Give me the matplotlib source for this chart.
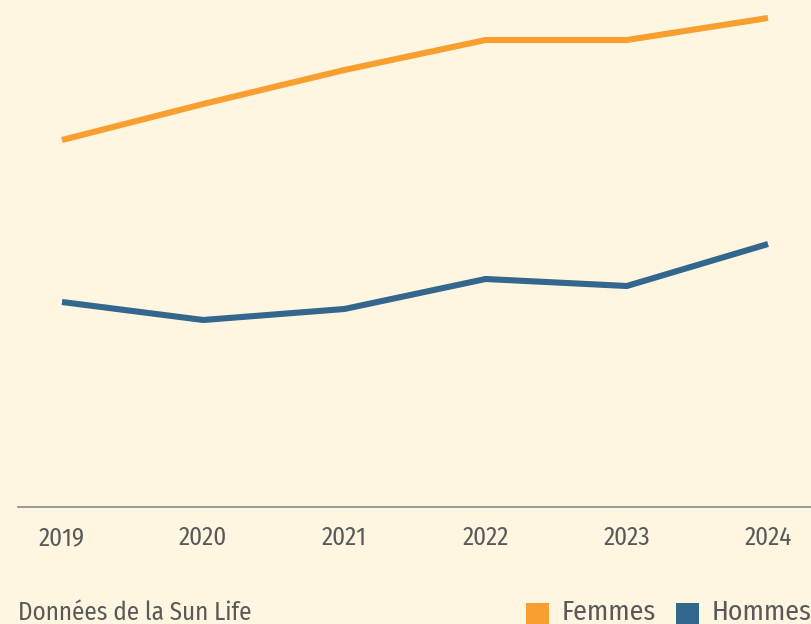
import matplotlib
matplotlib.use("Agg")
import matplotlib.pyplot as plt
from matplotlib.patches import Rectangle

years = [2019, 2020, 2021, 2022, 2023, 2024]
femmes = [73.4, 80.6, 87.4, 93.4, 93.4, 97.8]
hommes = [41.0, 37.4, 39.6, 45.6, 44.2, 52.6]
year_labels = ["2019", "2020", "2021", "2022", "2023", "2024"]
series_names = ["Femmes", "Hommes"]
source_text = "Données de la Sun Life"

plt.rcParams["font.family"] = ["Fira Sans Condensed", "DejaVu Sans"]

BG = "#FFF6E2"
ORANGE = "#F99F30"
BLUE = "#33678E"
TXT = "#595959"

fig = plt.figure(figsize=(8.12, 6.24), dpi=100, facecolor=BG)
ax = fig.add_axes([18 / 812, 1 - 507 / 624, 1 - 18 / 812, 507 / 624])
ax.set_facecolor(BG)

ax.plot(years, femmes, color=ORANGE, lw=4.4, solid_capstyle="butt", solid_joinstyle="miter")
ax.plot(years, hommes, color=BLUE, lw=4.4, solid_capstyle="butt", solid_joinstyle="miter")

ax.set_xlim(2019 - 44 / 141.2, 2024 + 44 / 141.2)
ax.set_ylim(0, 507 / 5)

for s in ["top", "right", "left"]:
    ax.spines[s].set_visible(False)
ax.spines["bottom"].set_color("#8A8A8A")
ax.spines["bottom"].set_linewidth(1.2)
ax.set_yticks([])
ax.set_xticks(years)
ax.set_xticklabels(year_labels)
ax.tick_params(axis="x", length=0, pad=13, labelsize=18, labelcolor=TXT)

fig.text(18 / 812, 1 - 620 / 624, source_text, fontsize=18,
         color=TXT, ha="left", va="baseline")

# legend
handles = [(526, ORANGE, series_names[0], 562), (676, BLUE, series_names[1], 712)]
for x0, col, name, tx in handles:
    fig.patches.append(Rectangle((x0 / 812, 0), 23 / 812, 21 / 624, transform=fig.transFigure,
                                 facecolor=col, edgecolor="none"))
    fig.text(tx / 812, 1 - 620 / 624, name, fontsize=20, color=TXT, ha="left", va="baseline")

fig.savefig("out.png", dpi=100, facecolor=BG)
